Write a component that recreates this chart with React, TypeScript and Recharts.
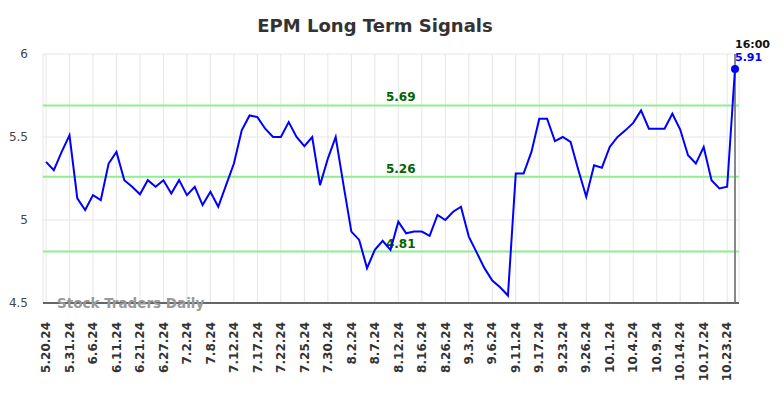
import { LineChart, Line, XAxis, YAxis, CartesianGrid, ReferenceLine } from "recharts";

const tickLabels = [
    "5.20.24", "5.31.24", "6.6.24", "6.11.24", "6.21.24", "6.27.24", "7.2.24", "7.8.24",
    "7.12.24", "7.17.24", "7.22.24", "7.25.24", "7.30.24", "8.2.24", "8.7.24", "8.12.24",
    "8.16.24", "8.26.24", "9.3.24", "9.6.24", "9.11.24", "9.17.24", "9.23.24", "9.26.24",
    "10.1.24", "10.4.24", "10.9.24", "10.14.24", "10.17.24", "10.23.24",
];

const prices = [
    5.35, 5.30, 5.41, 5.51, 5.13, 5.06, 5.15, 5.12, 5.34, 5.41,
    5.24, 5.20, 5.155, 5.24, 5.20, 5.24, 5.16, 5.24, 5.15, 5.20,
    5.09, 5.17, 5.08, 5.21, 5.34, 5.54, 5.63, 5.62, 5.55, 5.50,
    5.50, 5.59, 5.50, 5.445, 5.50, 5.21, 5.37, 5.50, 5.21, 4.93,
    4.88, 4.71, 4.82, 4.875, 4.82, 4.99, 4.92, 4.93, 4.93, 4.905,
    5.03, 5.00, 5.05, 5.08, 4.90, 4.805, 4.71, 4.635, 4.595, 4.545,
    5.28, 5.28, 5.41, 5.61, 5.61, 5.475, 5.50, 5.47, 5.30, 5.14,
    5.33, 5.315, 5.44, 5.50, 5.54, 5.585, 5.66, 5.55, 5.55, 5.55,
    5.64, 5.545, 5.39, 5.34, 5.44, 5.24, 5.19, 5.20, 5.91,
];

const signals = [5.69, 5.26, 4.81];
const yTicks = [4.5, 5, 5.5, 6];
const lastTime = "16:00";

const data = prices.map((v, i) => ({ i, v }));
const lastIndex = prices.length - 1;
const xTicks = tickLabels.map((_, k) => k * 3);

const FONT = "DejaVu Sans";

const DateTick = ({ x, y, payload }: any) => (
    <g transform={`translate(${x},${y})`}>
        <text
            transform="rotate(-90)"
            x={-11}
            dy="0.35em"
            textAnchor="end"
            fontSize={12}
            fontWeight="bold"
            fill="#333"
            fontFamily={FONT}
        >
            {tickLabels[payload.value / 3]}
        </text>
    </g>
);

const LastDot = (props: any) => {
    const { cx, cy, index, value } = props;
    if (index !== lastIndex) return <g key={`d-${index}`} />;
    return (
        <g key={`d-${index}`}>
            <circle cx={cx} cy={cy} r={4} fill="#0000ff" />
            <text x={cx} y={cy - 21} fontSize={11} fontWeight="bold" fill="#111" fontFamily={FONT}>
                {lastTime}
            </text>
            <text x={cx} y={cy - 8} fontSize={11} fontWeight="bold" fill="#0000ff" fontFamily={FONT}>
                {value.toFixed(2)}
            </text>
        </g>
    );
};

const SignalLabel = ({ viewBox, value }: any) => (
    <text
        x={viewBox.x + viewBox.width * 0.514}
        y={viewBox.y - 4}
        textAnchor="middle"
        fontSize={12}
        fontWeight="bold"
        fill="#006400"
        fontFamily={FONT}
    >
        {value.toFixed(2)}
    </text>
);

export default function App() {
    return (
        <div style={{ position: "absolute", left: 0, top: 0, width: 784, height: 398, background: "#fff" }}>
            <LineChart
                width={784}
                height={398}
                data={data}
                margin={{ top: 54, right: 45, bottom: 0, left: 0 }}
                style={{ fontFamily: FONT }}
            >
                <CartesianGrid stroke="#e6e6e6" strokeWidth={1} />
                <XAxis
                    type="number"
                    dataKey="i"
                    domain={[0, lastIndex]}
                    ticks={xTicks}
                    interval={0}
                    padding={{ left: 3, right: 4 }}
                    tick={<DateTick />}
                    tickLine={false}
                    axisLine={{ stroke: "#666", strokeWidth: 2 }}
                    height={95}
                />
                <YAxis
                    type="number"
                    domain={[4.5, 6]}
                    ticks={yTicks}
                    width={43}
                    tickSize={13}
                    tickMargin={2}
                    tickLine={false}
                    axisLine={false}
                    tick={{ fontSize: 12, fill: "#444", fontFamily: FONT }}
                />
                {signals.map((s) => (
                    <ReferenceLine
                        key={s}
                        y={s}
                        stroke="#90ee90"
                        strokeWidth={2}
                        label={<SignalLabel value={s} />}
                    />
                ))}
                <ReferenceLine x={lastIndex} stroke="#888" strokeWidth={2} />
                <Line
                    type="linear"
                    dataKey="v"
                    stroke="#0000ff"
                    strokeWidth={2}
                    dot={<LastDot />}
                    activeDot={false}
                    isAnimationActive={false}
                />
            </LineChart>
            <svg
                width={784}
                height={398}
                style={{ position: "absolute", left: 0, top: 0, pointerEvents: "none" }}
            >
                <text x={375} y={32} textAnchor="middle" fontSize={18} fontWeight="bold" fill="#333" fontFamily={FONT}>
                    EPM Long Term Signals
                </text>
                <text x={57} y={308} fontSize={13.5} fontWeight="bold" fill="#999" fontFamily={FONT}>
                    Stock Traders Daily
                </text>
            </svg>
        </div>
    );
}
